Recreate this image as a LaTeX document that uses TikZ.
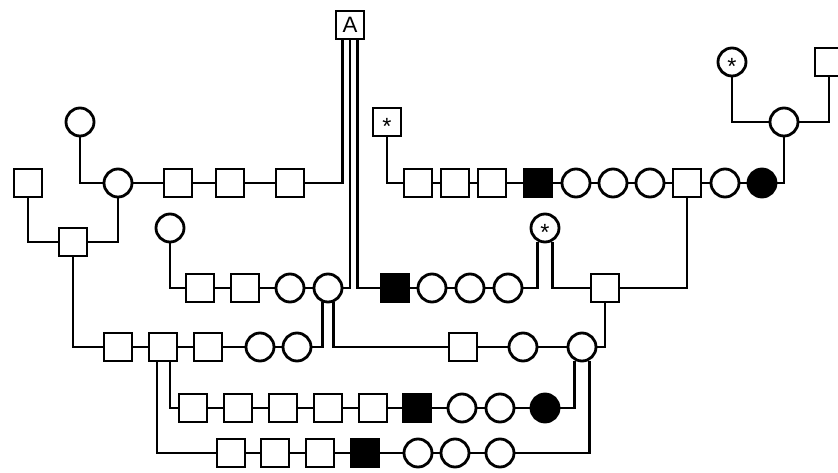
\documentclass[tikz,border=0pt]{standalone}
\usepackage{fontspec}
\setmainfont{Liberation Sans}

\tikzset{
  unit/.style={draw, line width=2.4pt, minimum size=0.84cm, inner sep=0pt},
  sq/.style={unit, rectangle},
  circ/.style={unit, circle},
  blk/.style={sq, fill=black},
  bcirc/.style={circ, fill=black},
  link/.style={line width=2.4pt},
  starmark/.style={font=\fontsize{20}{20}\selectfont, text height=0pt, text depth=0pt}
}
\newcommand{\starsym}{\smash{\raisebox{-0.55em}{*}}}

\begin{document}
\begin{tikzpicture}[x=0.03cm, y=-0.03cm]
            % picture frame, pixel units
            \clip (0,0) rectangle (838,472);
            \fill[white] (0,0) rectangle (838,472);

            % top left group
            \node[sq, font=\fontsize{19}{19}\selectfont] (A) at (350,25) {A};
            \node[circ] (lc1) at (80,122) {};
            \node[sq] (ls1) at (28,183) {};
            \node[sq] (ls2) at (73,242) {};
            \node[circ] (c2a) at (118,183) {};
            \node[sq] (s2a) at (178,183) {};
            \node[sq] (s2b) at (230,183) {};
            \node[sq] (s2c) at (290,183) {};

            % third row
            \node[circ] (c3top) at (170,228) {};
            \node[sq] (s3a) at (200,288) {};
            \node[sq] (s3b) at (245,288) {};
            \node[circ] (c3a) at (290,288) {};
            \node[circ] (c3b) at (328,288) {};
            \node[blk] (b3) at (395,288) {};
            \node[circ] (c3c) at (432,288) {};
            \node[circ] (c3d) at (470,288) {};
            \node[circ] (c3e) at (508,288) {};
            \node[circ, starmark] (st) at (545,228) {\starsym};
            \node[sq] (s3r) at (605,288) {};

            % top right group
            \node[sq, starmark] (ss) at (387,122) {\starsym};
            \node[sq] (s2d) at (418,183) {};
            \node[sq] (s2e) at (455,183) {};
            \node[sq] (s2f) at (492,183) {};
            \node[blk] (b2) at (538,183) {};
            \node[circ] (c2b) at (576,183) {};
            \node[circ] (c2c) at (613,183) {};
            \node[circ] (c2d) at (650,183) {};
            \node[sq] (s2g) at (687,183) {};
            \node[circ] (c2e) at (725,183) {};
            \node[bcirc] (bc2) at (762,183) {};
            \node[circ, starmark] (sc) at (732,62) {\starsym};
            \node[sq] (tr) at (829,62) {};
            \node[circ] (cr) at (784,122) {};

            % fourth row
            \node[sq] (s4a) at (118,347) {};
            \node[sq] (s4b) at (163,347) {};
            \node[sq] (s4c) at (208,347) {};
            \node[circ] (c4a) at (260,347) {};
            \node[circ] (c4b) at (297,347) {};
            \node[sq] (s4d) at (463,347) {};
            \node[circ] (c4c) at (523,347) {};
            \node[circ] (c4d) at (582,347) {};

            % fifth and sixth rows
            \node[sq] (s5a) at (193,408) {};
            \node[sq] (s5b) at (238,408) {};
            \node[sq] (s5c) at (283,408) {};
            \node[sq] (s5d) at (328,408) {};
            \node[sq] (s5e) at (373,408) {};
            \node[blk] (b5) at (417,408) {};
            \node[circ] (c5a) at (462,408) {};
            \node[circ] (c5b) at (500,408) {};
            \node[bcirc] (bc5) at (545,408) {};

            \node[sq] (s6a) at (231,453) {};
            \node[sq] (s6b) at (275,453) {};
            \node[sq] (s6c) at (320,453) {};
            \node[blk] (b6) at (365,453) {};
            \node[circ] (c6a) at (418,453) {};
            \node[circ] (c6b) at (455,453) {};
            \node[circ] (c6c) at (500,453) {};

            % chains
            \draw[link] (c2a) -- (s2a) -- (s2b) -- (s2c);
            \draw[link] (s3a) -- (s3b) -- (c3a) -- (c3b);
            \draw[link] (b3) -- (c3c) -- (c3d) -- (c3e);
            \draw[link] (s2d) -- (s2e) -- (s2f) -- (b2) -- (c2b) -- (c2c) -- (c2d) -- (s2g) -- (c2e) -- (bc2);
            \draw[link] (s4a) -- (s4b) -- (s4c) -- (c4a) -- (c4b);
            \draw[link] (s4d) -- (c4c) -- (c4d);
            \draw[link] (s5a) -- (s5b) -- (s5c) -- (s5d) -- (s5e) -- (b5) -- (c5a) -- (c5b) -- (bc5);
            \draw[link] (s6a) -- (s6b) -- (s6c) -- (b6) -- (c6a) -- (c6b) -- (c6c);

            % elbows
            \draw[link] (lc1.south) |- (c2a.west);
            \draw[link] (ls1.south) |- (ls2.west);
            \draw[link] (ls2.east) -| (c2a.south);
            \draw[link] (ls2.south) |- (s4a.west);
            \draw[link] ([xshift=-0.225cm]A.south) |- (s2c.east);
            \draw[link] (A.south) |- (c3b.east);
            \draw[link] ([xshift=0.225cm]A.south) |- (b3.west);
            \draw[link] (c3top.south) |- (s3a.west);
            \draw[link] (st.-118) |- (c3e.east);
            \draw[link] (st.-62) |- (s3r.west);
            \draw[link] (s3r.east) -| (s2g.south);
            \draw[link] (s3r.south) |- (c4d.east);
            \draw[link] (c3b.-110) |- (c4b.east);
            \draw[link] (c3b.-70) |- (s4d.west);
            \draw[link] ([xshift=0.21cm]s4b.south) |- (s5a.west);
            \draw[link] ([xshift=-0.18cm]s4b.south) |- (s6a.west);
            \draw[link] (c4d.-118) |- (bc5.east);
            \draw[link] (c4d.-62) |- (c6c.east);
            \draw[link] (ss.south) |- (s2d.west);
            \draw[link] (cr.south) |- (bc2.east);
            \draw[link] (sc.south) |- (cr.west);
            \draw[link] (tr.south) |- (cr.east);
\end{tikzpicture}
\end{document}
